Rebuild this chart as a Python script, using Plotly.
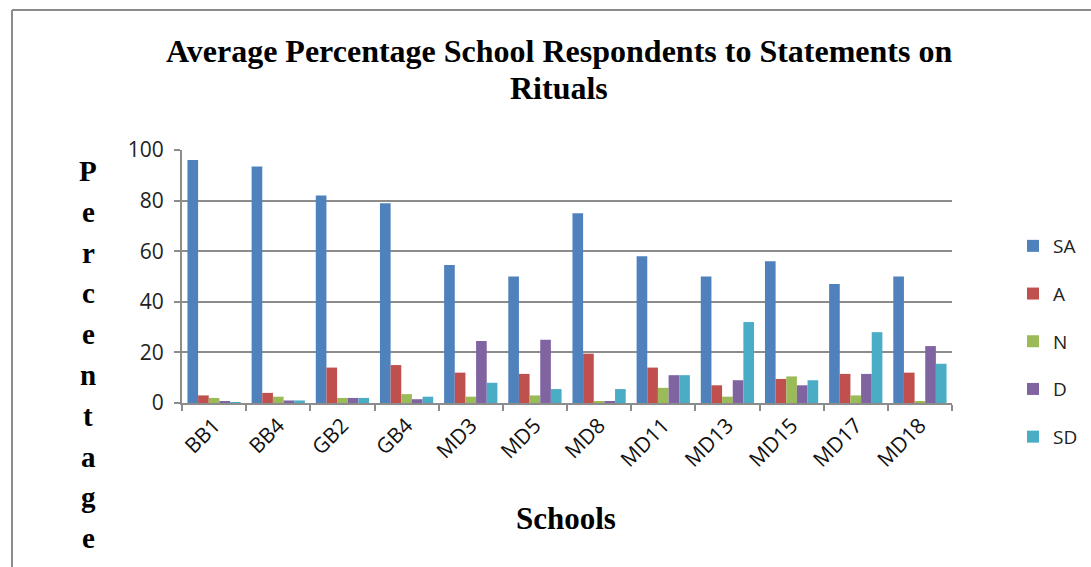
import plotly.graph_objects as go

schools = ["BB1", "BB4", "GB2", "GB4", "MD3", "MD5", "MD8", "MD11", "MD13", "MD15", "MD17", "MD18"]
SA = [96, 93.5, 82, 79, 54.5, 50, 75, 58, 50, 56, 47, 50]
A = [3, 4, 14, 15, 12, 11.5, 19.5, 14, 7, 9.5, 11.5, 12]
N = [2, 2.5, 2, 3.5, 2.5, 3, 0.5, 6, 2.5, 10.5, 3, 0.5]
D = [0.5, 1, 2, 1.5, 24.5, 25, 0.5, 11, 9, 7, 11.5, 22.5]
SD = [0.3, 1, 2, 2.5, 8, 5.5, 5.5, 11, 32, 9, 28, 15.5]

series = [("SA", SA, "#4F81BD"), ("A", A, "#C0504D"), ("N", N, "#9BBB59"),
          ("D", D, "#8064A2"), ("SD", SD, "#4BACC6")]

fig = go.Figure()
for name, vals, col in series:
    fig.add_trace(go.Bar(x=schools, y=vals, name=name, legendgroup=name,
                         marker=dict(color=col, line=dict(width=0))))

L, R, T, B = 182, 139, 150, 164
W, H = 1091, 567
pw, ph = W - L - R, H - T - B

def px(x):
    return (x - L) / pw

def py(y):
    return (H - B - y) / ph

serif = "Liberation Serif"
sans = "Open Sans"

ann = []
for txt, yy in [("Average Percentage School Respondents to Statements on", 51), ("Rituals", 88)]:
    ann.append(dict(text="<b>%s</b>" % txt, x=px(559), y=py(yy), xref="paper", yref="paper",
                    xanchor="center", yanchor="middle", showarrow=False,
                    font=dict(family=serif, size=32, color="#000")))
ann.append(dict(text="<b>Schools</b>", x=px(566), y=py(518), xref="paper", yref="paper",
                xanchor="center", yanchor="middle", showarrow=False,
                font=dict(family=serif, size=31, color="#000")))
ann.append(dict(text="<b>KCSE examinations.</b>", x=px(10), y=py(3), xref="paper", yref="paper",
                xanchor="left", yanchor="bottom", showarrow=False,
                font=dict(family=serif, size=26, color="#000")))
word = "Percentage"
for i, ch in enumerate(word):
    ann.append(dict(text="<b>%s</b>" % ch, x=px(88), y=py(171 + i * 40.8), xref="paper", yref="paper",
                    xanchor="center", yanchor="middle", showarrow=False,
                    font=dict(family=serif, size=29, color="#000")))

shapes = [
    dict(type="line", xref="paper", yref="paper", x0=px(12), x1=px(12), y0=py(10), y1=py(600),
         line=dict(color="#8c8c8c", width=2)),
    dict(type="line", xref="paper", yref="paper", x0=px(12), x1=px(1200), y0=py(10), y1=py(10),
         line=dict(color="#8c8c8c", width=2)),
]

fig.update_layout(
    width=W, height=H,
    margin=dict(l=L, r=R, t=T, b=B, pad=0, autoexpand=False),
    paper_bgcolor="white", plot_bgcolor="white",
    barmode="group", bargap=0.17, bargroupgap=0,
    annotations=ann, shapes=shapes,
    showlegend=True,
    legend=dict(x=px(1013), y=py(227), xanchor="left", yanchor="top",
                font=dict(family=sans, size=19, color="#222"),
                tracegroupgap=20, bgcolor="rgba(0,0,0,0)", itemwidth=30),
    xaxis=dict(showgrid=False, showline=True, linecolor="#8c8c8c", linewidth=2,
               ticks="outside", tickson="boundaries", ticklen=6, tickcolor="#8c8c8c", tickwidth=2,
               tickangle=-45, tickfont=dict(family=sans, size=21, color="#111")),
    yaxis=dict(range=[0, 100], dtick=20, showgrid=True, gridcolor="#8c8c8c", gridwidth=2,
               showline=True, linecolor="#8c8c8c", linewidth=2,
               ticks="outside", ticklen=6, tickcolor="#8c8c8c", tickwidth=2,
               tickfont=dict(family=sans, size=21, color="#222"), ticklabelstandoff=6,
               zeroline=False),
)

fig.write_html("out.html")
